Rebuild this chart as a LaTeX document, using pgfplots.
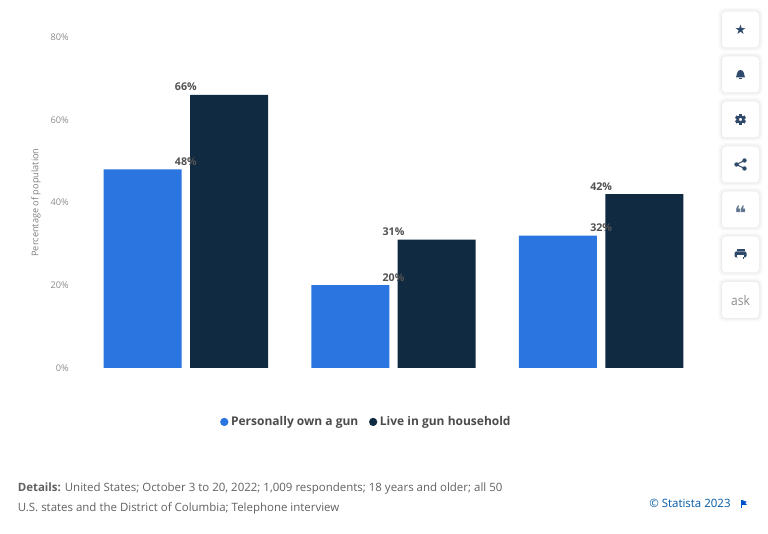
\documentclass[border=0pt]{standalone}
\usepackage{fontspec}
\setmainfont{Open Sans}
\newfontfamily\djfont{DejaVu Sans}
\usepackage{pgfplots}
\pgfplotsset{compat=1.18}
\usetikzlibrary{calc}
\definecolor{sblue}{HTML}{2A75DF}
\definecolor{snavy}{HTML}{0F2A41}
\definecolor{band}{HTML}{F8F8F8}
\definecolor{gridc}{HTML}{CCCCCC}
\definecolor{icon}{HTML}{2F4A6B}
\newcommand{\btn}[1]{%
  \foreach \s/\o in {4/0.012,3/0.015,2/0.02,1/0.025}{
    \fill[black,opacity=\o,rounded corners=4pt] ({(722-\s)*0.75pt},{(534-#1+18+\s)*0.75pt}) rectangle ({(759+\s)*0.75pt},{(534-#1-18-\s)*0.75pt});
  }
  \fill[white,rounded corners=3pt] ({722*0.75pt},{(534-#1+18)*0.75pt}) rectangle ({759*0.75pt},{(534-#1-18)*0.75pt});
}
\begin{document}
\begin{tikzpicture}
\path[fill=white] (0,0) rectangle (576pt,400.5pt);
\begin{axis}[
  at={(61.5pt,124.5pt)}, anchor=south west,
  scale only axis, width=467.25pt, height=248.25pt,
  set layers=standard,
  xmin=-0.5, xmax=2.5, ymin=0, ymax=80,
  xtick={0,1,2}, xticklabels={Republican,Democrat,Independent},
  ytick={0,20,40,60,80},
  axis y line=none,
  axis x line*=bottom,
  axis line style={black,line width=0.7pt,-},
  x axis line style={-},
  xtick style={draw=none},
  ymajorgrids, 
  grid style={gridc,line width=0.5pt,densely dotted},
  xticklabel style={font=\fontsize{7.8pt}{9pt}\selectfont,text=black!60,yshift=-1pt},
  clip=false,
  bar width=58.5pt,
  legend style={at={(0.457,-0.163)},anchor=center,draw=none,fill=none,font=\fontsize{9pt}{11pt}\selectfont\bfseries,text=black!70,/tikz/every even column/.append style={column sep=6pt}},
  legend columns=2,
  every node near coord/.append style={font=\fontsize{8pt}{10pt}\selectfont\bfseries,text=black!68,yshift=-0.5pt},
  /pgf/number format/assume math mode=true,
]
\addplot[ybar,bar shift=0pt,bar width=155.75pt,fill=band,draw=none,on layer=axis background,forget plot] coordinates {(1,80)};
\addplot[ybar,bar shift=-32.4pt,fill=sblue,draw=none,point meta=y,nodes near coords={\pgfmathprintnumber{\pgfplotspointmeta}\%},legend image code/.code={\fill[sblue] (0.1cm,0cm) circle (3.1pt);}] coordinates {(0,48) (1,20) (2,32)};
\addlegendentry{Personally own a gun}
\addplot[ybar,bar shift=32.4pt,fill=snavy,draw=none,point meta=y,nodes near coords={\pgfmathprintnumber{\pgfplotspointmeta}\%},legend image code/.code={\fill[snavy] (0.1cm,0cm) circle (3.1pt);}] coordinates {(0,66) (1,31) (2,42)};
\addlegendentry{Live in gun household}
\end{axis}
% y tick labels
\foreach \v/\py in {0/368,20/285.25,40/202.5,60/119.75,80/37}{
  \node[anchor=east,inner sep=0pt,font=\fontsize{6.9pt}{8pt}\selectfont,text=black!45] at ({69*0.75pt},{(534-\py)*0.75pt}) {\v\%};
}
\node[rotate=90,inner sep=0pt,font=\fontsize{6.9pt}{8pt}\selectfont,text=black!50] at ({36*0.75pt},{(534-202.5)*0.75pt}) {Percentage of population};
% footer
\node[anchor=west,inner sep=0pt,font=\fontsize{8.6pt}{10pt}\selectfont,text=black!62] at ({17.5*0.75pt},{(534-488.5)*0.75pt}) {\textbf{Details:} United States; October 3 to 20, 2022; 1,009 respondents; 18 years and older; all 50};
\node[anchor=west,inner sep=0pt,font=\fontsize{8.6pt}{10pt}\selectfont,text=black!62] at ({17.5*0.75pt},{(534-508)*0.75pt}) {U.S. states and the District of Columbia; Telephone interview};
\node[anchor=west,inner sep=0pt,font=\fontsize{8.6pt}{10pt}\selectfont,text=teal!70!blue] at ({649*0.75pt},{(534-503.5)*0.75pt}) {© Statista 2023};
\fill[blue!60!cyan!80!black] ({741*0.75pt},{(534-508)*0.75pt}) rectangle ({742*0.75pt},{(534-500)*0.75pt});
\fill[blue!60!cyan!80!black] ({742*0.75pt},{(534-500)*0.75pt}) -- ({747*0.75pt},{(534-502)*0.75pt}) -- ({745*0.75pt},{(534-503)*0.75pt}) -- ({747*0.75pt},{(534-505)*0.75pt}) -- ({742*0.75pt},{(534-505)*0.75pt}) -- cycle;
% buttons
\btn{29.5}\btn{74.5}\btn{119.5}\btn{164.5}\btn{209.5}\btn{254.5}\btn{300}
\node[font=\djfont\fontsize{10pt}{10pt}\selectfont,text=icon,inner sep=0pt] at ({740.5*0.75pt},{(534-29.5)*0.75pt}) {★};
% bell
\begin{scope}[shift={({740.5*0.75pt},{(534-74.5)*0.75pt})},x=0.75pt,y=0.75pt]
\fill[icon] (-4.5,-3) .. controls (-3.5,-1) and (-4,4.5) .. (0,4.5) .. controls (4,4.5) and (3.5,-1) .. (4.5,-3) -- cycle;
\fill[icon] (-1.3,-4) rectangle (1.3,-5);
\end{scope}
% gear
\begin{scope}[shift={({740.5*0.75pt},{(534-119.5)*0.75pt})},x=0.75pt,y=0.75pt]
\foreach \a in {0,60,...,300}{\fill[icon,rotate=\a] (-1.5,3) rectangle (1.5,5.5);}
\draw[icon,line width=1.8pt] (0,0) circle (2.9);
\end{scope}
% share
\begin{scope}[shift={({740.5*0.75pt},{(534-164.5)*0.75pt})},x=0.75pt,y=0.75pt]
\draw[icon,line width=0.8pt] (4,4) -- (-4,0) -- (4,-4);
\fill[icon] (4,4) circle (2.2) (-4,0) circle (2.2) (4,-4) circle (2.2);
\end{scope}
% quote
\node[font=\djfont\bfseries\fontsize{15pt}{15pt}\selectfont,text=icon!75,inner sep=0pt] at ({740.5*0.75pt},{(534-213)*0.75pt}) {❝};
% print
\begin{scope}[shift={({740.5*0.75pt},{(534-254.5)*0.75pt})},x=0.75pt,y=0.75pt]
\fill[icon,rounded corners=1pt] (-6,-3) rectangle (6,3);
\fill[icon] (-4,3) rectangle (4,5);
\fill[white] (-3.5,-1) rectangle (3.5,-2.6);
\fill[icon] (-3,-2.5) rectangle (3,-5);
\fill[white] (-2.2,-2.5) rectangle (2.2,-4.2);
\end{scope}
\node[font=\fontsize{10pt}{10pt}\selectfont,text=black!45,inner sep=0pt,xscale=0.9] at ({740.5*0.75pt},{(534-301)*0.75pt}) {ask};
\end{tikzpicture}
\end{document}
